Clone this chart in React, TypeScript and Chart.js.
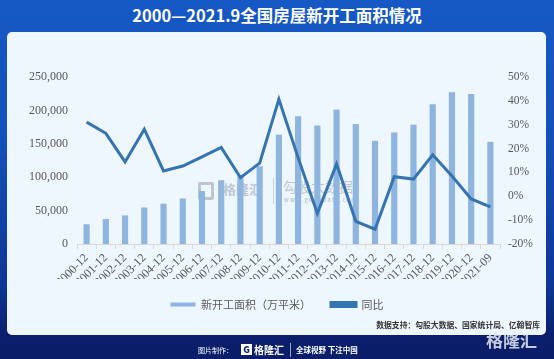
import React, { useEffect, useRef } from "react";
import { Chart, registerables } from "chart.js";

Chart.register(...registerables);

const categories = [
  "2000-12", "2001-12", "2002-12", "2003-12", "2004-12", "2005-12", "2006-12",
  "2007-12", "2008-12", "2009-12", "2010-12", "2011-12", "2012-12", "2013-12",
  "2014-12", "2015-12", "2016-12", "2017-12", "2018-12", "2019-12", "2020-12", "2021-09",
];

const newStartArea = [
  29583, 37394, 42800, 54708, 60414, 68064, 79253, 95402, 102553, 116422, 163647,
  191237, 177334, 201208, 179592, 154454, 166928, 178654, 209342, 227154, 224433, 152944,
];

const yoyPercent = [
  31.1, 26.4, 14.4, 28.1, 10.6, 12.7, 16.5, 20.5, 7.8, 13.9, 40.7,
  16.2, -7.2, 13.6, -10.5, -13.8, 8.2, 7.2, 17.4, 8.5, -1.1, -4.4,
];

const leftTicks = { min: 0, max: 250000, step: 50000 };
const rightTicks = { min: -20, max: 50, step: 10 };

const CANVAS_W = 538;
const CANVAS_H = 288;

export default function App() {
  const ref = useRef<HTMLCanvasElement | null>(null);

  useEffect(() => {
    if (!ref.current) return;
    const chart = new Chart(ref.current, {
      type: "bar",
      data: {
        labels: categories,
        datasets: [
          {
            type: "bar",
            label: "新开工面积（万平米）",
            data: newStartArea,
            backgroundColor: "#8eb4e0",
            borderWidth: 0,
            yAxisID: "y",
            barPercentage: 0.32,
            categoryPercentage: 1,
            order: 2,
          },
          {
            type: "line",
            label: "同比",
            data: yoyPercent,
            borderColor: "#3574b3",
            backgroundColor: "#3574b3",
            borderWidth: 3,
            pointRadius: 0,
            tension: 0,
            yAxisID: "y1",
            order: 1,
          } as any,
        ],
      },
      options: {
        responsive: false,
        maintainAspectRatio: false,
        animation: false,
        layout: { padding: { left: 0, right: 0, top: 45, bottom: 0 } },
        plugins: {
          tooltip: { enabled: false },
          legend: {
            position: "bottom",
            labels: {
              boxWidth: 25,
              boxHeight: 4,
              padding: 20,
              color: "#595959",
              font: { family: "'Noto Sans CJK SC', sans-serif", size: 11 },
              sort: (a: any, b: any) => a.datasetIndex - b.datasetIndex,
            },
          },
        },
        scales: {
          x: {
            offset: true,
            grid: {
              display: true,
              drawOnChartArea: false,
              drawTicks: true,
              tickLength: 5,
              offset: true,
              color: "#d9d9d9",
            },
            border: { display: true, color: "#d9d9d9" },
            ticks: {
              maxRotation: 45,
              minRotation: 45,
              autoSkip: false,
              padding: 2,
              color: "#595959",
              font: { family: "'Liberation Serif', serif", size: 12 },
            },
            afterFit: (s: any) => {
              s.height = 35;
            },
          },
          y: {
            position: "left",
            min: leftTicks.min,
            max: leftTicks.max,
            grid: { display: false, drawTicks: false },
            border: { display: false },
            ticks: {
              stepSize: leftTicks.step,
              padding: 9,
              color: "#595959",
              font: { family: "'Liberation Serif', serif", size: 12 },
            },
            afterFit: (s: any) => {
              s.width = 69;
            },
          },
          y1: {
            position: "right",
            min: rightTicks.min,
            max: rightTicks.max,
            grid: { display: false, drawTicks: false },
            border: { display: false },
            ticks: {
              stepSize: rightTicks.step,
              padding: 8,
              color: "#595959",
              font: { family: "'Liberation Serif', serif", size: 11.5 },
              callback: (v: any) => `${v}%`,
            },
            afterFit: (s: any) => {
              s.width = 46;
            },
          },
        },
      },
    });
    return () => chart.destroy();
  }, []);

  const wm = "rgba(120,130,145,0.42)";

  return (
    <div
      style={{
        position: "fixed",
        left: 0,
        top: 0,
        width: 554,
        height: 359,
        overflow: "hidden",
        background:
          "linear-gradient(180deg, #1659c4 0%, #1450b8 40%, #0d3596 80%, #0a1f6c 93%, #0a1d68 100%)",
        fontFamily: "'Noto Sans CJK SC', sans-serif",
      }}
    >
      <div
        style={{
          position: "absolute",
          left: 0,
          top: 4,
          width: 554,
          textAlign: "center",
          color: "#ffffff",
          fontSize: 16.5,
          fontWeight: 700,
          lineHeight: "22px",
        }}
      >
        2000—2021.9全国房屋新开工面积情况
      </div>
      <div
        style={{
          position: "absolute",
          left: 7,
          top: 32,
          width: 539,
          height: 303,
          background: "#eef6fe",
          borderRadius: 5,
        }}
      />
      <div style={{ position: "absolute", left: 198, top: 182, pointerEvents: "none", whiteSpace: "nowrap" }}>
        <div
          style={{
            position: "absolute",
            left: 0,
            top: 0,
            width: 10,
            height: 12,
            border: `3px solid ${wm}`,
            borderRadius: 2,
          }}
        />
        <div
          style={{
            position: "absolute",
            left: 25,
            top: -1,
            color: wm,
            fontSize: 13,
            fontWeight: 700,
            lineHeight: "16px",
          }}
        >
          格隆汇
        </div>
        <div
          style={{ position: "absolute", left: 75, top: -4, width: 1, height: 26, background: "rgba(120,130,145,0.3)" }}
        />
        <div
          style={{
            position: "absolute",
            left: 85,
            top: -5,
            color: wm,
            fontSize: 14,
            lineHeight: "18px",
          }}
        >
          勾股大数据
        </div>
        <div
          style={{
            position: "absolute",
            left: 86,
            top: 14,
            color: wm,
            fontSize: 5.5,
            letterSpacing: 1.2,
            fontWeight: 700,
            lineHeight: "8px",
          }}
        >
          www.gogudata.com
        </div>
      </div>
      <canvas
        ref={ref}
        width={CANVAS_W}
        height={CANVAS_H}
        style={{ position: "absolute", left: 8, top: 32, width: CANVAS_W, height: CANVAS_H }}
      />
      <div
        style={{
          position: "absolute",
          right: 14,
          top: 319,
          color: "#333333",
          fontSize: 7.8,
          fontWeight: 700,
          whiteSpace: "nowrap",
        }}
      >
        数据支持：勾股大数据、国家统计局、亿翰智库
      </div>
      <div
        style={{
          position: "absolute",
          left: 198,
          top: 342,
          color: "#ffffff",
          fontSize: 7,
          whiteSpace: "nowrap",
          display: "flex",
          alignItems: "center",
        }}
      >
        <span>图片制作：</span>
        <span
          style={{
            marginLeft: 8,
            display: "inline-block",
            width: 11,
            height: 11,
            background: "#ffffff",
            color: "#0a1f6c",
            fontSize: 9,
            fontWeight: 900,
            lineHeight: "11px",
            textAlign: "center",
          }}
        >
          G
        </span>
        <span style={{ marginLeft: 2, fontSize: 10, fontWeight: 700 }}>格隆汇</span>
        <span
          style={{
            marginLeft: 6,
            width: 1,
            height: 14,
            background: "rgba(255,255,255,0.6)",
            display: "inline-block",
          }}
        />
        <span style={{ marginLeft: 5, fontSize: 7.5, fontWeight: 700 }}>全球视野 下注中国</span>
      </div>
      <div
        style={{
          position: "absolute",
          left: 486,
          top: 329,
          color: "rgba(230,235,245,0.85)",
          fontSize: 17,
          fontWeight: 700,
          whiteSpace: "nowrap",
          lineHeight: "22px",
        }}
      >
        格隆汇
      </div>
    </div>
  );
}
